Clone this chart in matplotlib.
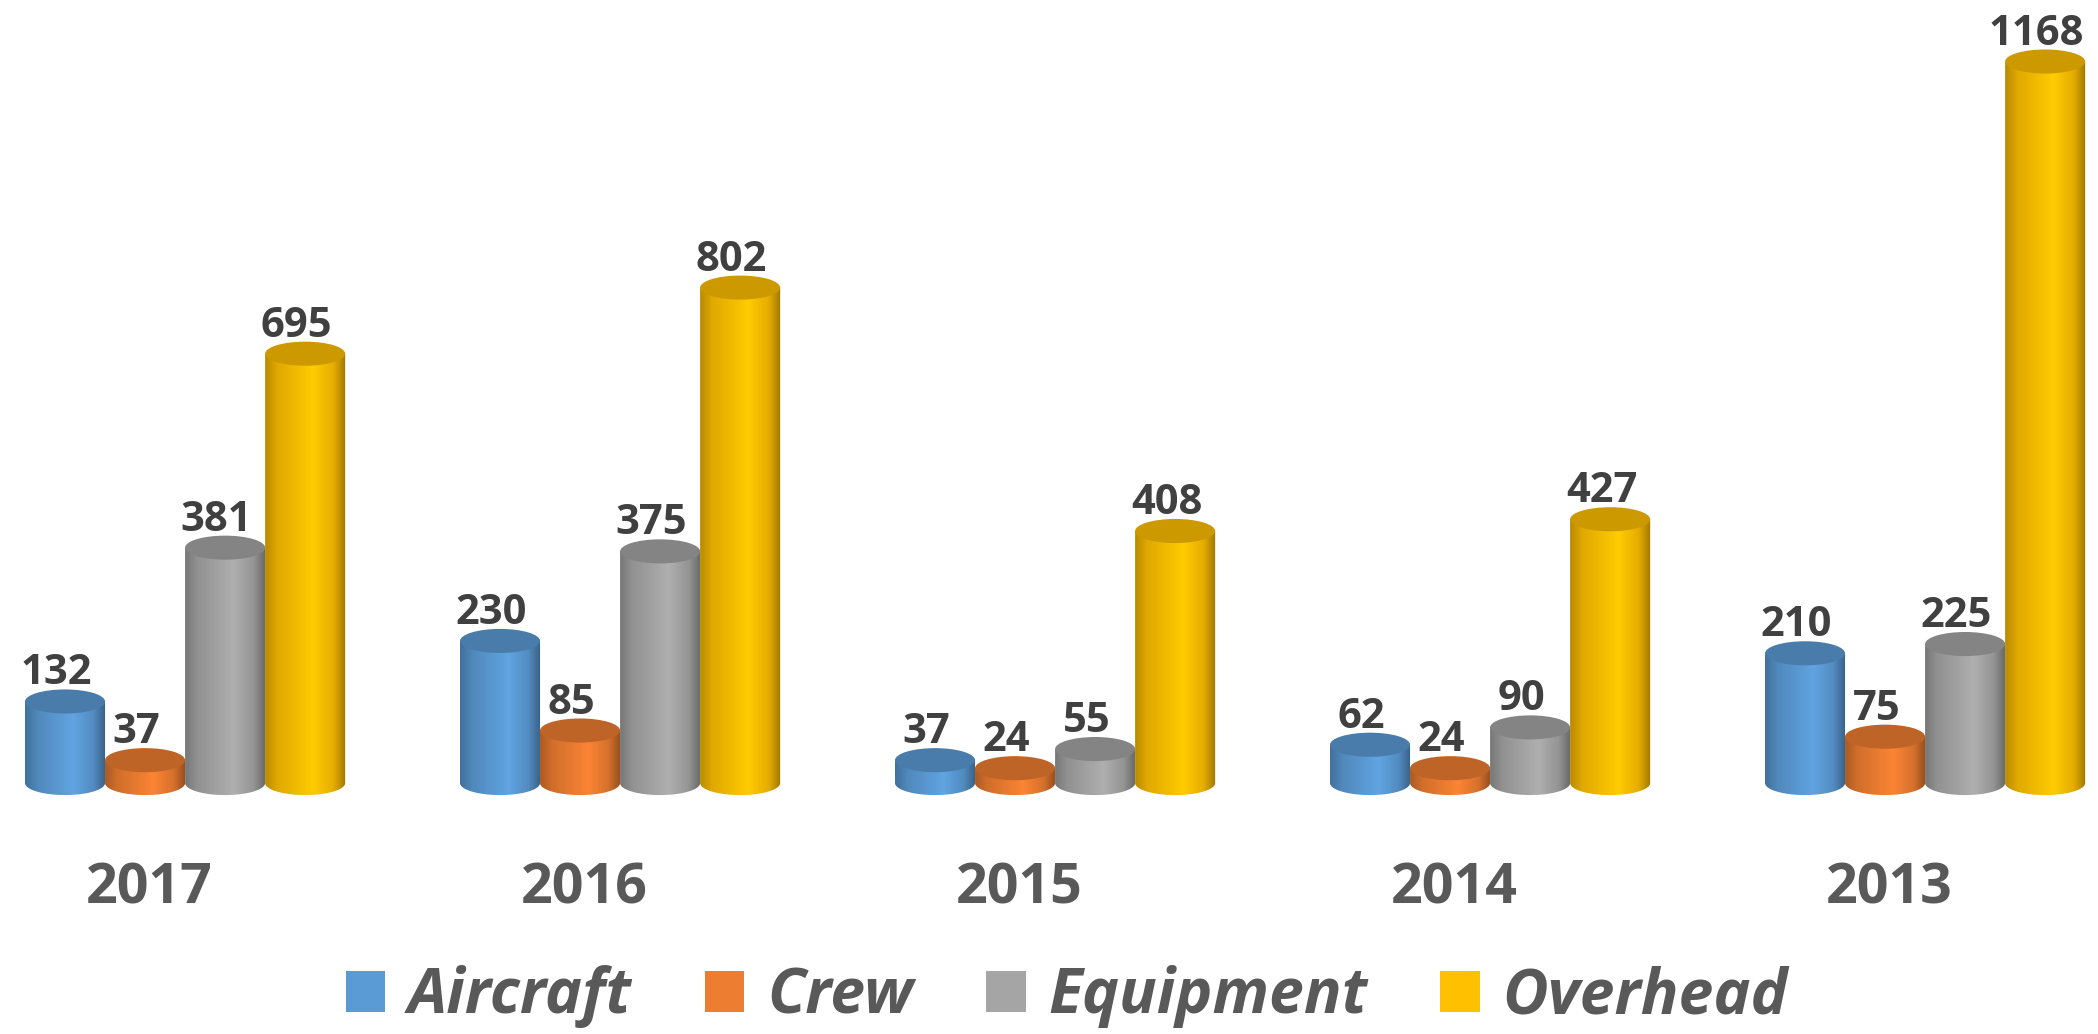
import numpy as np
import matplotlib
matplotlib.use("Agg")
from matplotlib import pyplot as plt
from matplotlib.patches import Ellipse, Patch
from matplotlib.path import Path
from matplotlib.colors import to_rgb

years = ["2017", "2016", "2015", "2014", "2013"]
series = ["Aircraft", "Crew", "Equipment", "Overhead"]
aircraft = [132, 230, 37, 62, 210]
crew = [37, 85, 24, 24, 75]
equipment = [381, 375, 55, 90, 225]
overhead = [695, 802, 408, 427, 1168]
colors = ["#5B9BD5", "#ED7D31", "#A5A5A5", "#FFC000"]

plt.rcParams['font.family'] = ['Open Sans', 'DejaVu Sans']


def shade(c, f):
    return tuple(min(1.0, v * f) for v in to_rgb(c))


def gradient(c):
    # dark left edge, light band right of centre, dark right edge
    stops = [0.0, 0.15, 0.6, 0.85, 1.0]
    cols = np.array([shade(c, 0.72), shade(c, 0.88), shade(c, 1.06),
                     shade(c, 0.9), shade(c, 0.62)])
    t = np.linspace(0, 1, 200)
    img = np.stack([np.interp(t, stops, cols[:, k]) for k in range(3)], axis=-1)
    return img[np.newaxis, :, :]


def cylinder_path(x0, w, h, eh):
    xc = x0 + w / 2
    th = np.linspace(0, np.pi, 60)
    verts = [(x0 + w, h), (x0, h), (x0, 0)]
    verts += list(zip(xc - np.cos(th) * w / 2, -np.sin(th) * eh / 2))
    verts += [(x0 + w, h)]
    return Path(verts, closed=True)


fig = plt.figure(figsize=(20.98, 10.34), dpi=100)
ax = fig.add_axes([0, 0, 1, 1])
ax.axis("off")

w = 0.184
shift = 0.083
eh = 39
data = [aircraft, crew, equipment, overhead]
x = np.arange(len(years))

for j, (vals, c) in enumerate(zip(data, colors)):
    pos = x + shift + (j - 1.5) * w
    bars = ax.bar(pos, vals, width=w, color=c, linewidth=0, zorder=j * 3)
    for b, v in zip(bars, vals):
        b.set_visible(False)
        x0 = b.get_x()
        im = ax.imshow(gradient(c), extent=[x0, x0 + w, -eh, v],
                       aspect="auto", zorder=j * 3 + 1, interpolation="bilinear")
        im.set_clip_path(cylinder_path(x0, w, v, eh), transform=ax.transData)
        ax.add_patch(Ellipse((x0 + w / 2, v), w, eh, facecolor=shade(c, 0.8),
                             edgecolor="none", zorder=j * 3 + 2))
        ax.text(x0 + w / 2 - 0.02, v + eh / 2 + 8, str(v), ha="center", va="baseline",
                fontsize=30, fontweight="bold", color="#404040", zorder=20)

for i, yr in enumerate(years):
    ax.text(i, -172, yr, ha="center", va="center", fontsize=40,
            fontweight="bold", color="#595959")

ax.set_xlim(-0.3425, 4.4805)
ax.set_ylim(-406.3, 1267.6)

handles = [Patch(facecolor=c, edgecolor="none") for c in colors]
fig.legend(handles, series, loc="center", bbox_to_anchor=(0.5086, 0.036), ncol=4,
           frameon=False, handlelength=0.63, handleheight=0.63, handletextpad=0.36,
           columnspacing=1.17, prop={"size": 45, "weight": "bold", "style": "italic"},
           labelcolor="#595959")

fig.savefig("out.png", dpi=100)
